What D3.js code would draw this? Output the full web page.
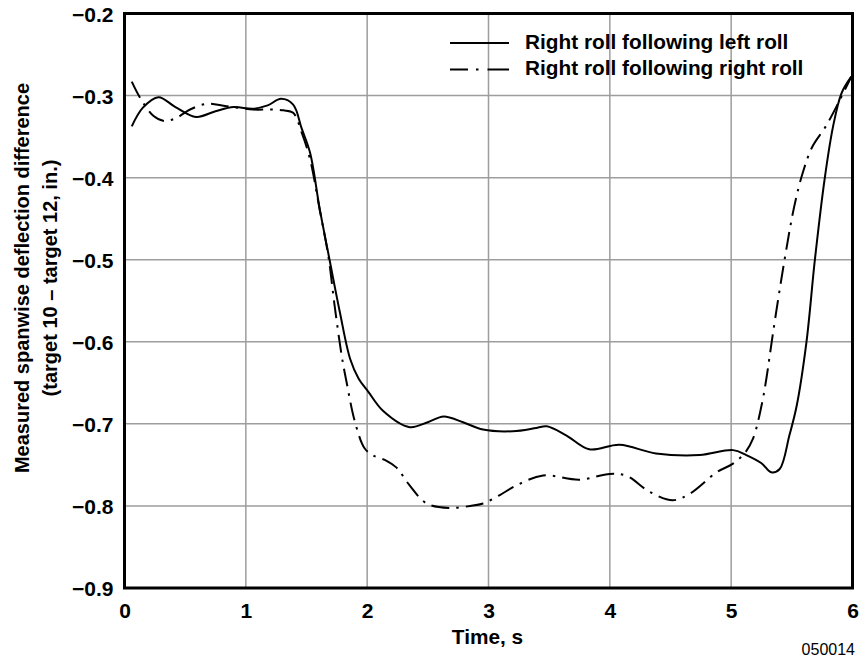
<!DOCTYPE html>
<html><head><meta charset="utf-8">
<script src="https://cdn.jsdelivr.net/npm/d3@7"></script>
<style>
html,body{margin:0;padding:0;background:#fff;}
svg{display:block;font-family:"Liberation Sans",Arial,Helvetica,sans-serif;}
</style></head>
<body><svg id="chart" width="860" height="659"></svg>
<script>
const xTicks = [0,1,2,3,4,5,6];
const yTicks = [-0.2,-0.3,-0.4,-0.5,-0.6,-0.7,-0.8,-0.9];
const seriesNames = ["Right roll following left roll","Right roll following right roll"];

const leftT = [0.06,0.15,0.28,0.42,0.59,0.75,0.9,1.06,1.18,1.29,1.39,1.46,1.53,1.61,1.69,1.775,1.86,1.93,2.01,2.13,2.35,2.5,2.63,2.79,2.955,3.2,3.395,3.48,3.64,3.83,4.08,4.38,4.74,5.015,5.125,5.25,5.33,5.40,5.48,5.54,5.62,5.69,5.77,5.84,5.91,5.99];
const leftV = [-0.3375,-0.315,-0.302,-0.314,-0.326,-0.319,-0.314,-0.316,-0.312,-0.304,-0.311,-0.34,-0.37,-0.439,-0.5,-0.564,-0.621,-0.645,-0.661,-0.684,-0.704,-0.698,-0.691,-0.698,-0.707,-0.709,-0.705,-0.703,-0.714,-0.731,-0.7255,-0.736,-0.738,-0.732,-0.738,-0.748,-0.759,-0.755,-0.714,-0.678,-0.601,-0.5,-0.402,-0.3375,-0.297,-0.277];

const rightT = [0.06,0.13,0.24,0.33,0.43,0.54,0.68,0.84,1.06,1.2,1.31,1.39,1.46,1.53,1.61,1.68,1.73,1.79,1.83,1.90,1.98,2.05,2.16,2.24,2.35,2.49,2.68,2.85,2.955,3.09,3.23,3.45,3.75,4.0,4.14,4.33,4.52,4.66,4.88,5.015,5.11,5.18,5.25,5.29,5.345,5.44,5.52,5.59,5.67,5.78,5.89,5.99];
const rightV = [-0.283,-0.303,-0.325,-0.331,-0.327,-0.317,-0.31,-0.313,-0.317,-0.317,-0.318,-0.321,-0.345,-0.378,-0.44,-0.4955,-0.554,-0.617,-0.649,-0.698,-0.73,-0.7385,-0.745,-0.753,-0.775,-0.797,-0.8025,-0.8,-0.797,-0.787,-0.775,-0.763,-0.768,-0.761,-0.7635,-0.783,-0.793,-0.785,-0.759,-0.7485,-0.736,-0.718,-0.678,-0.645,-0.589,-0.5,-0.435,-0.394,-0.362,-0.3375,-0.307,-0.277];

const svg = d3.select("#chart");
const L = 124.5, R = 852.5, T = 13.5, B = 588;
const x = d3.scaleLinear().domain([0,6]).range([L,R]);
const y = d3.scaleLinear().domain([-0.9,-0.2]).range([B,T]);

// grid
const grid = svg.append("g");
grid.selectAll("line.vx").data(xTicks.slice(1,-1)).join("line")
  .attr("x1",d=>x(d)).attr("x2",d=>x(d)).attr("y1",T).attr("y2",B)
  .attr("stroke","#9d9d9d").attr("stroke-width",1.5);
grid.selectAll("line.hy").data(yTicks.slice(1,-1)).join("line")
  .attr("y1",d=>y(d)).attr("y2",d=>y(d)).attr("x1",L).attr("x2",R)
  .attr("stroke","#9d9d9d").attr("stroke-width",1.5);

// axes (labels only)
const fmtY = d => "\u2212" + Math.abs(d).toFixed(1);
const xAxis = d3.axisBottom(x).tickValues(xTicks).tickSize(0).tickPadding(0).tickFormat(d3.format("d"));
const gx = svg.append("g").attr("transform",`translate(0,${B})`).call(xAxis);
gx.select(".domain").remove();
gx.selectAll("text").attr("font-size",21).attr("font-weight","bold").attr("fill","#000")
  .attr("font-family","'Liberation Sans',Arial,sans-serif").attr("dy",null).attr("y",29.5);

const yAxis = d3.axisLeft(y).tickValues(yTicks).tickSize(0).tickPadding(0).tickFormat(fmtY);
const gy = svg.append("g").attr("transform",`translate(${L-11},0)`).call(yAxis);
gy.select(".domain").remove();
gy.selectAll("text").attr("font-size",21).attr("font-weight","bold").attr("fill","#000")
  .attr("font-family","'Liberation Sans',Arial,sans-serif").attr("dy","0.36em");

// lines
const line = d3.line().x(d=>x(d[0])).y(d=>y(d[1])).curve(d3.curveCatmullRom.alpha(0.5));
const leftData = leftT.map((t,i)=>[t,leftV[i]]);
const rightData = rightT.map((t,i)=>[t,rightV[i]]);
svg.append("path").datum(rightData).attr("d",line).attr("fill","none")
  .attr("stroke","#000").attr("stroke-width",2).attr("stroke-dasharray","18,7,2.5,7");
svg.append("path").datum(leftData).attr("d",line).attr("fill","none")
  .attr("stroke","#000").attr("stroke-width",2);

// frame
svg.append("rect").attr("x",L).attr("y",T).attr("width",R-L).attr("height",B-T)
  .attr("fill","none").attr("stroke","#000").attr("stroke-width",3);

// legend
const lg = svg.append("g");
const legY = [43,69.5];
lg.append("line").attr("x1",450).attr("x2",509).attr("y1",legY[0]).attr("y2",legY[0])
  .attr("stroke","#000").attr("stroke-width",2);
lg.append("line").attr("x1",450).attr("x2",509).attr("y1",legY[1]).attr("y2",legY[1])
  .attr("stroke","#000").attr("stroke-width",2).attr("stroke-dasharray","18,8,2.5,9,22");
lg.selectAll("text").data(seriesNames).join("text")
  .attr("x",525).attr("y",(d,i)=>legY[i]+5.5)
  .attr("font-size",20.8).attr("font-weight","bold").text(d=>d);

// axis titles
svg.append("text").attr("x",(L+R)/2 - 1).attr("y",644).attr("text-anchor","middle")
  .attr("font-size",20.8).attr("font-weight","bold").text("Time, s");
const yt = svg.append("text").attr("transform","translate(29,278) rotate(-90)")
  .attr("text-anchor","middle").attr("font-size",20).attr("font-weight","bold");
yt.append("tspan").attr("x",0).attr("y",0).text("Measured spanwise deflection difference");
yt.append("tspan").attr("x",0).attr("y",28).text("(target 10 \u2013 target 12, in.)");

// figure id
svg.append("text").attr("x",855).attr("y",655).attr("text-anchor","end")
  .attr("font-size",16).text("050014");
</script></body></html>
